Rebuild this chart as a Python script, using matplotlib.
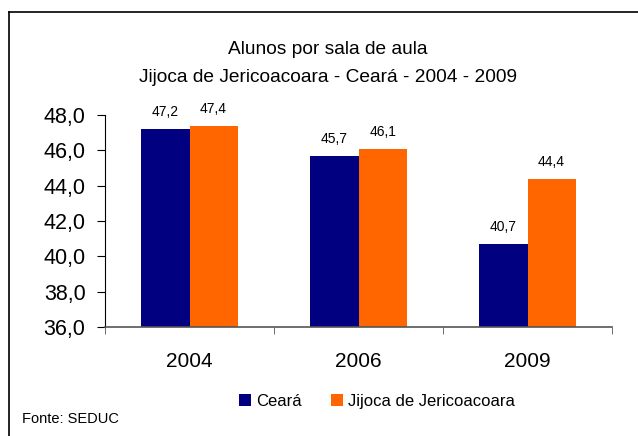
import matplotlib
matplotlib.use("Agg")
import matplotlib.pyplot as plt
from matplotlib.lines import Line2D
from matplotlib.patches import Patch
import numpy as np

plt.rcParams['font.family'] = ['Liberation Sans', 'DejaVu Sans']

# dados
anos = ['2004', '2006', '2009']
ceara = [47.2, 45.7, 40.7]
jijoca = [47.4, 46.1, 44.4]
series_nomes = ['Ceará', 'Jijoca de Jericoacoara']
cores = ['#000080', '#FF6600']

W, H = 638, 436
fig = plt.figure(figsize=(W / 100, H / 100), dpi=100)
ax = fig.add_axes([105 / W, 1 - 327 / H, (612 - 105) / W, (327 - 115) / H])

x = np.arange(len(anos))
largura = 0.285
b1 = ax.bar(x - largura / 2, ceara, largura, color=cores[0], zorder=2)
b2 = ax.bar(x + largura / 2, jijoca, largura, color=cores[1], zorder=2)

for barras in (b1, b2):
    for r in barras:
        v = r.get_height()
        ax.annotate(('%.1f' % v).replace('.', ','),
                    (r.get_x() + r.get_width() / 2, v),
                    xytext=(0, 7), textcoords='offset points',
                    ha='center', va='bottom', fontsize=10)

ax.set_ylim(36, 48)
ax.set_xlim(-0.5, 2.5)
ax.set_yticks(np.arange(36, 48.1, 2))
ax.set_yticklabels([('%.1f' % t).replace('.', ',') for t in np.arange(36, 48.1, 2)], fontsize=15.5)
ax.set_xticks(x)
ax.set_xticklabels([' '.join('') + a for a in anos], fontsize=15)
ax.set_xticks([-0.5, 0.5, 1.5, 2.5], minor=True)
ax.tick_params(axis='x', which='major', length=0, pad=18)
ax.tick_params(axis='x', which='minor', length=5, color='#555555')
ax.tick_params(axis='y', length=6, pad=8)

for s in ['top', 'right']:
    ax.spines[s].set_visible(False)
ax.spines['left'].set_color('black')
ax.spines['bottom'].set_color('#555555')
ax.spines['bottom'].set_linewidth(1.2)

fig.text(328 / W, 1 - 50 / H, 'Alunos por sala de aula', ha='center', va='center', fontsize=13.8)
fig.text(328 / W, 1 - 77 / H, 'Jijoca de Jericoacoara - Ceará - 2004 - 2009',
         ha='center', va='center', fontsize=13.8)

handles = [Patch(facecolor=c, edgecolor='none') for c in cores]
fig.legend(handles, series_nomes, loc='center', bbox_to_anchor=(377 / W, 1 - 401 / H),
           ncol=2, frameon=False, fontsize=12, handlelength=0.7, handleheight=0.7,
           handletextpad=0.3, columnspacing=1.8)

fig.text(22 / W, 1 - 423 / H, 'Fonte: SEDUC', ha='left', va='baseline', fontsize=10.5)

# moldura
fig.add_artist(Line2D([9 / W, 9 / W], [0, 1 - 12 / H], color='black', lw=1.2, transform=fig.transFigure))
fig.add_artist(Line2D([9 / W, 1], [1 - 12 / H, 1 - 12 / H], color='black', lw=1.2, transform=fig.transFigure))

fig.savefig('out.png', dpi=100, facecolor='white')
